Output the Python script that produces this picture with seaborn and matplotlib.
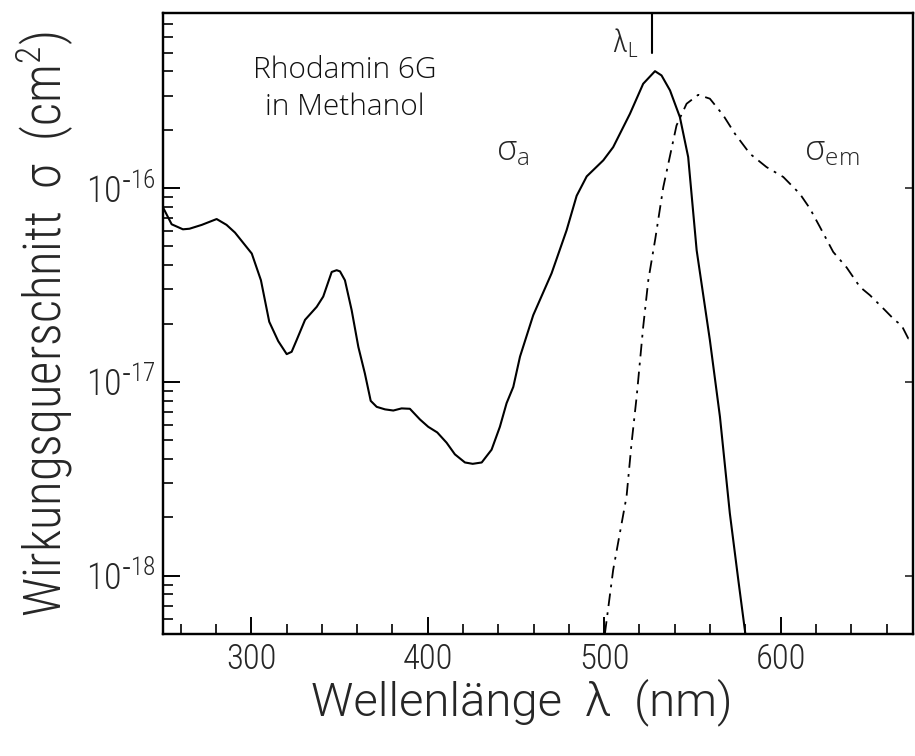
import numpy as np
import pandas as pd
import matplotlib
matplotlib.use("Agg")
import matplotlib.pyplot as plt
import matplotlib.ticker as mticker
import seaborn as sns

# ---- data ----
abs_wl = [250, 254.9, 261.3, 265, 272, 280.4, 286, 290.8, 300.3, 305.5, 310.2, 315.3, 320.1,
          322.9, 325.7, 330.5, 337.1, 340.8, 345.6, 348.4, 350.3, 353.1, 356.9, 360.7,
          364.4, 367.7, 371.1, 375.8, 380.5, 385.2, 389.9, 395.6, 400.3, 405.4, 410.7,
          415.4, 421.1, 425.5, 430.6, 436.2, 440.9, 444.7, 448.5, 452.3, 459.8, 470.2,
          478.7, 484.4, 490.1, 499.5, 505.1, 514.6, 522.1, 528.8, 532.5, 537.3, 542.9,
          547.6, 552.4, 559.9, 565.6, 571.2, 576.0, 580.0]
abs_log = [-16.10, -16.187, -16.213, -16.21, -16.19, -16.16, -16.19, -16.23, -16.338, -16.476,
           -16.69, -16.79, -16.857, -16.845, -16.785, -16.68, -16.613, -16.56, -16.433,
           -16.424, -16.43, -16.476, -16.63, -16.82, -16.957, -17.098, -17.129, -17.142,
           -17.148, -17.137, -17.139, -17.194, -17.232, -17.261, -17.314, -17.374, -17.416,
           -17.423, -17.416, -17.35, -17.232, -17.11, -17.026, -16.87, -16.656, -16.44,
           -16.218, -16.04, -15.94, -15.857, -15.789, -15.617, -15.462, -15.397, -15.419,
           -15.496, -15.634, -15.84, -16.321, -16.785, -17.18, -17.678, -18.022, -18.30]

em_wl = [500.4, 505.1, 512.7, 515.5, 518.4, 522.1, 525.0, 529.0, 533.5, 541.0, 546.7,
         553.3, 559.9, 567.5, 574.1, 582.6, 592.0, 601.5, 610.9, 616.6, 622.2, 629.8,
         637.4, 644.9, 650.6, 659.1, 664.7, 668.5, 672.3, 675.0]
em_log = [-18.30, -17.97, -17.59, -17.318, -17.077, -16.717, -16.476, -16.26, -15.995,
          -15.677, -15.565, -15.519, -15.539, -15.625, -15.72, -15.823, -15.892, -15.943,
          -16.03, -16.106, -16.2, -16.33, -16.41, -16.51, -16.553, -16.63, -16.682,
          -16.708, -16.776, -16.768]

laser_wl = 527.0
x_ticks = [300, 400, 500, 600]
y_ticks = [1e-18, 1e-17, 1e-16]

COND = ["Roboto Condensed", "DejaVu Sans"]
NORM = ["Roboto", "DejaVu Sans"]
LIGHT = ["Open Sans", "DejaVu Sans"]

sns.set_style("ticks")
plt.rcParams["font.family"] = COND
plt.rcParams["font.weight"] = 300
plt.rcParams["mathtext.fontset"] = "custom"

W, H = 915, 756
fig = plt.figure(figsize=(W / 100, H / 100), dpi=100)
ax = fig.add_axes([163 / W, 122 / H, 750 / W, 621 / H])

df_a = pd.DataFrame({"wl": abs_wl, "sigma": 10 ** np.array(abs_log)})
df_e = pd.DataFrame({"wl": em_wl, "sigma": 10 ** np.array(em_log)})

sns.lineplot(data=df_a, x="wl", y="sigma", ax=ax, color="black", lw=1.5, sort=False)
sns.lineplot(data=df_e, x="wl", y="sigma", ax=ax, color="black", lw=1.3, sort=False,
             linestyle=(0, (7, 3.5, 1.5, 3.5)))

ax.set_yscale("log")
ax.set_xlim(250, 675)
ax.set_ylim(5e-19, 8e-16)
ax.set_xlabel("")
ax.set_ylabel("")

ax.set_xticks(x_ticks)
ax.xaxis.set_minor_locator(mticker.MultipleLocator(20))
ax.set_yticks(y_ticks)
ax.yaxis.set_minor_locator(mticker.LogLocator(base=10, subs=np.arange(2, 10)))
ax.yaxis.set_minor_formatter(mticker.NullFormatter())
ax.yaxis.set_major_formatter(mticker.FuncFormatter(
    lambda v, p: r"$\mathregular{10^{\text{-}%d}}$" % abs(round(np.log10(v)))))

ax.tick_params(axis="both", which="major", direction="in", length=12, width=1.4, color="black")
ax.tick_params(axis="both", which="minor", direction="in", length=7, width=1.2, color="black")
ax.tick_params(axis="y", which="both", right=False)
ax.tick_params(axis="y", which="major", labelsize=26, pad=5)
ax.tick_params(axis="x", which="major", labelsize=25, pad=6)
for lab in ax.get_xticklabels() + ax.get_yticklabels():
    lab.set_fontweight(300)

# right-side short decade ticks
ax2 = ax.twinx()
ax2.set_yscale("log")
ax2.set_ylim(ax.get_ylim())
ax2.set_yticks(y_ticks)
ax2.yaxis.set_minor_locator(mticker.NullLocator())
ax2.tick_params(axis="y", which="major", direction="in", length=6, width=1.2, labelright=False)

for a in (ax, ax2):
    for s in a.spines.values():
        s.set_visible(True)
        s.set_linewidth(1.6)
        s.set_color("black")

# axis titles
fig.text(522 / W, 1 - 715 / H, "Wellenlänge  λ  (nm)", fontsize=34, family=NORM,
         fontweight=300, ha="center", va="baseline")
fig.text(62 / W, 1 - 324 / H, r"Wirkungsquerschnitt  σ  (cm$\mathregular{^2}$)", fontsize=36.5,
         family=COND, fontweight=300, rotation=90, rotation_mode="anchor",
         ha="center", va="baseline")

# laser marker
ax.plot([laser_wl, laser_wl], [5.0e-16, 8e-16], color="black", lw=1.5)
ax.text(519.5, 5.6e-16, r"λ$\mathregular{_L}$", fontsize=22, ha="right", va="center",
        family=COND, fontweight=300)

ax.text(0.242, 0.878, "Rhodamin 6G\nin Methanol", transform=ax.transAxes, ha="center",
        va="center", fontsize=21.5, linespacing=1.3, color="#111111", family=LIGHT,
        fontweight=300)
ax.text(448, 1.55e-16, r"σ$\mathregular{_a}$", fontsize=25, ha="center", va="center",
        family=LIGHT, fontweight=300)
ax.text(629, 1.55e-16, r"σ$\mathregular{_{em}}$", fontsize=25, ha="center", va="center",
        family=LIGHT, fontweight=300)

fig.savefig("out.png", dpi=100)
